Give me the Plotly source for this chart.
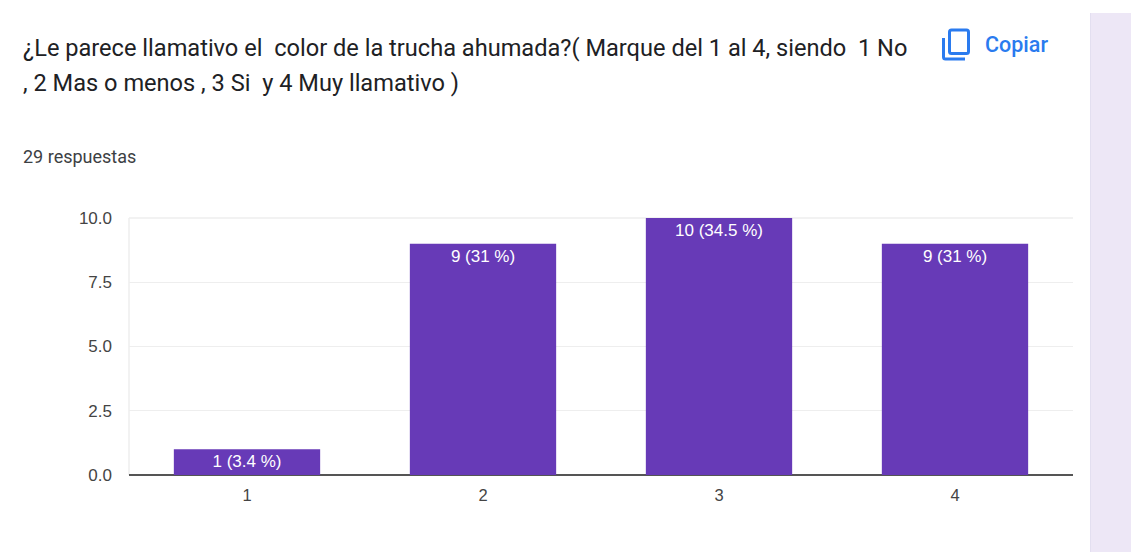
import plotly.graph_objects as go

W, H = 1131, 552
L, R, T, B = 129, 1073, 218, 475

categories = ["1", "2", "3", "4"]
counts = [1, 9, 10, 9]
bar_labels = ["1 (3.4 %)", "9 (31 %)", "10 (34.5 %)", "9 (31 %)"]
y_ticks = [0, 2.5, 5, 7.5, 10]
y_tick_labels = ["0.0", "2.5", "5.0", "7.5", "10.0"]
title_lines = [
    "¿Le parece llamativo el\u00a0 color de la trucha ahumada?( Marque del 1 al 4, siendo\u00a0 1 No",
    ", 2 Mas o menos , 3 Si\u00a0 y 4 Muy llamativo )",
]
subtitle = "29 respuestas"
copy_label = "Copiar"

PURPLE = "#673ab7"
BLUE = "#2a7bef"


def px(x):
    return (x - L) / (R - L)


def py(y):
    return (B - y) / (B - T)


def text(x, y, s, size, color, family="Roboto", weight=400):
    return dict(
        x=px(x), y=py(y), xref="paper", yref="paper", text=s, showarrow=False,
        xanchor="left", yanchor="middle", align="left",
        font=dict(size=size, color=color, family=family, weight=weight),
    )


fig = go.Figure(
    go.Bar(
        x=categories, y=counts, text=bar_labels, width=0.62,
        marker=dict(color=PURPLE, line=dict(width=0)),
        textposition="inside", insidetextanchor="end", textangle=0,
        textfont=dict(color="#ffffff", size=17, family="Liberation Sans"),
        constraintext="none", cliponaxis=False, hoverinfo="skip",
    )
)


def rounded(x0, y0, x1, y1, r):
    return (
        f"M {px(x0 + r)} {py(y0)} L {px(x1 - r)} {py(y0)} Q {px(x1)} {py(y0)} {px(x1)} {py(y0 + r)} "
        f"L {px(x1)} {py(y1 - r)} Q {px(x1)} {py(y1)} {px(x1 - r)} {py(y1)} "
        f"L {px(x0 + r)} {py(y1)} Q {px(x0)} {py(y1)} {px(x0)} {py(y1 - r)} "
        f"L {px(x0)} {py(y0 + r)} Q {px(x0)} {py(y0)} {px(x0 + r)} {py(y0)} Z"
    )


shapes = [
    # right side panel
    dict(type="rect", xref="paper", yref="paper", x0=px(1090), x1=px(1131), y0=py(552), y1=py(13),
         fillcolor="#ede7f6", line=dict(width=0), layer="below"),
    dict(type="line", xref="paper", yref="paper", x0=px(1090.5), x1=px(1090.5), y0=py(552), y1=py(13),
         line=dict(color="#e3dff0", width=1), layer="below"),
    # left plot border and top gridline
    dict(type="line", xref="paper", yref="paper", x0=0, x1=0, y0=0, y1=1,
         line=dict(color="#eeeeee", width=1.5), layer="below"),
    dict(type="line", xref="paper", yref="paper", x0=0, x1=1, y0=1, y1=1,
         line=dict(color="#eeeeee", width=1.5), layer="below"),
    # copy icon: front sheet
    dict(type="path", xref="paper", yref="paper", path=rounded(949.5, 30, 968.5, 53.5, 2),
         line=dict(color=BLUE, width=3), fillcolor="rgba(0,0,0,0)"),
    # copy icon: back sheet corner
    dict(type="path", xref="paper", yref="paper",
         path=f"M {px(943.5)} {py(38)} L {px(943.5)} {py(57)} Q {px(943.5)} {py(59)} {px(945.5)} {py(59)} L {px(965)} {py(59)}",
         line=dict(color=BLUE, width=3)),
]

annotations = [
    text(21, 48, title_lines[0], 23.6, "#202124"),
    text(21, 83, title_lines[1], 23.6, "#202124"),
    text(21, 156, subtitle, 18, "#3c4043"),
    text(983, 44, copy_label, 21.5, BLUE, "Roboto", 500),
]

fig.update_layout(
    width=W, height=H, autosize=False,
    margin=dict(l=L, r=W - R, t=T, b=H - B, pad=0),
    paper_bgcolor="#ffffff", plot_bgcolor="#ffffff",
    showlegend=False, shapes=shapes, annotations=annotations,
    xaxis=dict(
        type="category", showgrid=False, zeroline=False, showline=False, ticks="",
        tickfont=dict(size=16.5, color="#444444", family="Liberation Sans"), ticklabelstandoff=8,
    ),
    yaxis=dict(
        range=[0, 10], tickmode="array", tickvals=y_ticks, ticktext=y_tick_labels,
        gridcolor="#eeeeee", gridwidth=1, zeroline=True, zerolinecolor="#555555", zerolinewidth=1.5,
        showline=False, ticks="", ticklabelstandoff=16,
        tickfont=dict(size=17, color="#444444", family="Liberation Sans"),
    ),
)

fig.write_html(
    "out.html",
    config=dict(displayModeBar=False),
    post_script="document.body.style.margin='0';document.body.style.overflow='hidden';",
)
